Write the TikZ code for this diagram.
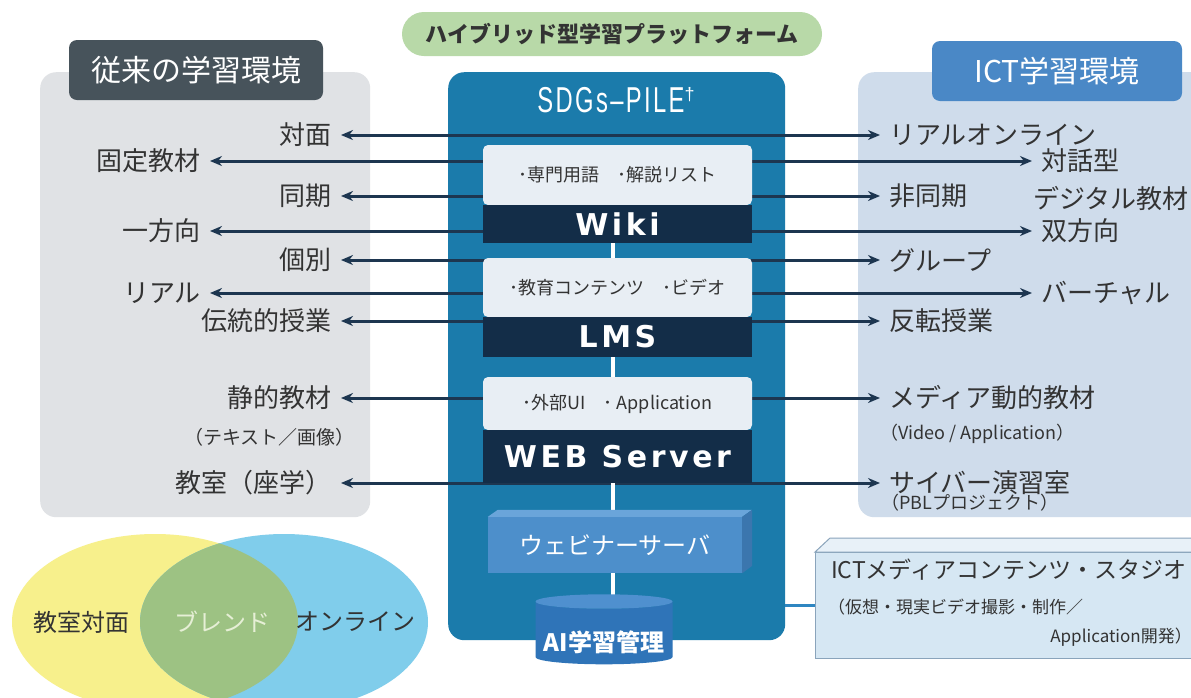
\documentclass[tikz,border=0pt]{standalone}
\usepackage{fontspec}
\setmainfont{Noto Sans CJK JP}
\newfontfamily\jp{Noto Sans CJK JP}
\newfontfamily\widefont[LetterSpace=12]{DejaVu Sans}
\newfontfamily\condfont[LetterSpace=10]{Liberation Sans}
\usetikzlibrary{shapes.geometric,arrows.meta}
\newcommand\fsz[1]{\fontsize{#1}{#1}\selectfont}
\definecolor{labc}{HTML}{333333}
\definecolor{arrc}{HTML}{1D3650}
\definecolor{leftpanel}{HTML}{E0E2E5}
\definecolor{rightpanel}{HTML}{CFDCEB}
\definecolor{lefthead}{HTML}{47535B}
\definecolor{righthead}{HTML}{4A88C6}
\definecolor{pill}{HTML}{B8D9A8}
\definecolor{platc}{HTML}{1B7BAB}
\definecolor{lightbox}{HTML}{E8EEF4}
\definecolor{darkbar}{HTML}{132D48}
\definecolor{webfront}{HTML}{4D8FCB}
\definecolor{webtop}{HTML}{6AA5DA}
\definecolor{webside}{HTML}{3B76AE}
\definecolor{aibody}{HTML}{2F74B8}
\definecolor{aitop}{HTML}{4F90CF}
\definecolor{studiofront}{HTML}{D6E7F3}
\definecolor{studiotop}{HTML}{E8F1F8}
\definecolor{studioborder}{HTML}{8AA4BB}
\definecolor{connc}{HTML}{2E86C1}
\definecolor{vyellow}{HTML}{F7F08C}
\definecolor{vblue}{HTML}{80CDEB}
\definecolor{vgreen}{HTML}{9DC283}
\definecolor{blendtxt}{HTML}{E6EFD6}
\tikzset{
  lab/.style={font=\fsz{26}, text=labc, inner xsep=9pt, inner ysep=1pt},
  sublab/.style={font=\fsz{19}, text=labc, inner sep=0pt},
  biarrow/.style={{Stealth[length=12pt,width=10pt]}-{Stealth[length=12pt,width=10pt]}, line width=3pt, draw=arrc},
  header/.style={rounded corners=8pt, minimum width=254pt, minimum height=60pt, text=white, font=\fsz{30}, inner sep=0pt},
  lightpart/.style={fill=lightbox, rounded corners=5pt, minimum width=269pt, inner sep=0pt, text=labc, font=\fsz{18}},
  darkpart/.style={fill=darkbar, minimum width=269pt, inner sep=0pt, text=white, font=\widefont\bfseries\fsz{30}},
  venntxt/.style={font=\fsz{24}, text=labc, inner sep=0pt}
}
\begin{document}
\begin{tikzpicture}[x=1pt,y=-1pt]
\useasboundingbox (0,0) rectangle (1191,697);
\clip (0,0) rectangle (1191,697);
\fill[white] (0,0) rectangle (1191,697);

% panels
\node (leftp) [fill=leftpanel, rounded corners=16pt, minimum width=330pt, minimum height=445pt, anchor=north west, inner sep=0] at (40,72) {};
\node (rightp) [fill=rightpanel, rounded corners=16pt, minimum width=360pt, minimum height=445pt, anchor=north west, inner sep=0] at (858,72) {};
\node (lhead) [header, fill=lefthead] at (196,70) {従来の学習環境};
\node (rhead) [header, fill=righthead, minimum width=250pt] at (1057,71) {ICT学習環境};

% top pill
\node (pillnode) [fill=pill, rounded corners=22pt, minimum width=420pt, minimum height=44pt, inner sep=0, text=labc, font=\bfseries\fsz{22}] at (612,34) {ハイブリッド型学習プラットフォーム};

% platform
\node (plat) [fill=platc, rounded corners=16pt, minimum width=337pt, minimum height=568pt, anchor=north west, inner sep=0] at (448,72) {};
\node (sdgs) [text=white, inner sep=0] at (616,100) {\condfont\fsz{36}\scalebox{0.66}[1]{SDGs–PILE}\raisebox{0.35em}{\fsz{18}†}};

% studio box with connector
\node (studio) [draw=studioborder, line width=1pt, fill=studiofront, minimum width=400pt, minimum height=106pt, anchor=north west, inner sep=0] at (815,552) {};
\fill[studiotop, draw=studioborder, line width=1pt] (studio.north west) -- ++(15,-14) -- ++(400,0) -- (studio.north east) -- cycle;
\coordinate (platconn) at (785,605);
\draw[connc, line width=3pt] (platconn) -- (platconn -| studio.west);
\node (studio1) [anchor=west, inner sep=0, text=labc, font=\fsz{23}] at (831,570) {ICTメディアコンテンツ・スタジオ};
\node (studio2) [anchor=west, inner sep=0, text=labc, font=\fsz{17}] at (828,607) {（仮想・現実ビデオ撮影・制作／};
\node (studio3) [anchor=east, inner sep=0, text=labc, font=\fsz{17}] at (1192,637) {Application開発）};

% labels left
\node (l1) [lab, anchor=east] at (341,135) {対面};
\node (l2) [lab, anchor=east] at (210,161) {固定教材};
\node (l3) [lab, anchor=east] at (341,196) {同期};
\node (l4) [lab, anchor=east] at (210,231) {一方向};
\node (l5) [lab, anchor=east] at (341,260) {個別};
\node (l6) [lab, anchor=east] at (210,293) {リアル};
\node (l7) [lab, anchor=east] at (341,321) {伝統的授業};
\node (l8) [lab, anchor=east] at (341,398) {静的教材};
\node (l9) [lab, anchor=east] at (341,483) {教室（座学）};
\node (l8s) [sublab, anchor=east] at (355,437) {（テキスト／画像）};
% labels right
\node (r1) [lab, anchor=west] at (880,135) {リアルオンライン};
\node (r2) [lab, anchor=west] at (1032,161) {対話型};
\node (r2b) [lab, anchor=west, inner xsep=0pt] at (1033,198) {デジタル教材};
\node (r3) [lab, anchor=west] at (880,196) {非同期};
\node (r4) [lab, anchor=west] at (1032,231) {双方向};
\node (r5) [lab, anchor=west] at (880,260) {グループ};
\node (r6) [lab, anchor=west] at (1032,293) {バーチャル};
\node (r7) [lab, anchor=west] at (880,321) {反転授業};
\node (r8) [lab, anchor=west] at (880,398) {メディア動的教材};
\node (r9) [lab, anchor=west] at (880,483) {サイバー演習室};
\node (r8s) [sublab, anchor=west, font=\fsz{18}] at (880,434) {（Video / Application）};
\node (r9s) [sublab, anchor=west, font=\fsz{18}] at (881,503) {（PBLプロジェクト）};

% arrows
\foreach \i in {1,...,9} { \draw[biarrow] (l\i.east) -- (r\i.west); }

% white spine
\coordinate (spinetop) at (613,243);
\coordinate (spinebot) at (613,600);
\draw[white, line width=4.5pt] (spinetop) -- (spinebot);

% Wiki block
\node (wikiL) [lightpart, minimum height=60pt] at (617.5,175) {･専門用語　･解説リスト};
\node (wikiD) [darkpart, minimum height=38pt] at (617.5,224) {Wiki};
% LMS block
\node (lmsL) [lightpart, minimum height=59pt] at (617.5,287.5) {･教育コンテンツ　･ビデオ};
\node (lmsD) [darkpart, minimum height=40pt] at (617.5,337) {LMS};
% WEB block
\node (webL) [lightpart, minimum height=53pt] at (617.5,403.5) {･外部UI　･ Application};
\node (webD) [darkpart, minimum height=53pt] at (617.5,456.5) {WEB Server};

% webinar server 3D box
\node (webinar) [fill=webfront, minimum width=254pt, minimum height=56pt, inner sep=0, text=white, font=\fsz{24}] at (615,545) {ウェビナーサーバ};
\fill[webtop] (webinar.north west) -- ++(10,-7) -- ++(254,0) -- (webinar.north east) -- cycle;
\fill[webside] (webinar.north east) -- ++(10,-7) -- ++(0,56) -- (webinar.south east) -- cycle;

% AI cylinder
\node (ai) [cylinder, shape border rotate=90, aspect=0.12, minimum width=137pt, minimum height=70pt, inner sep=0, cylinder uses custom fill, cylinder body fill=aibody, cylinder end fill=aitop, text=white, font=\bfseries\fsz{24}] at (604,633) {\raisebox{-9pt}[0.88em][0.12em]{AI学習管理}};

% Venn
\fill[vyellow] (155,622) ellipse [x radius=143, y radius=88];
\fill[vblue] (284,622) ellipse [x radius=144, y radius=88];
\begin{scope}
\clip (155,622) ellipse [x radius=143, y radius=88];
\fill[vgreen] (284,622) ellipse [x radius=144, y radius=88];
\end{scope}
\node (v1) [venntxt] at (81,622) {教室対面};
\node (v2) [venntxt, text=blendtxt] at (222,622) {ブレンド};
\node (v3) [venntxt] at (355,622) {オンライン};
\end{tikzpicture}
\end{document}
